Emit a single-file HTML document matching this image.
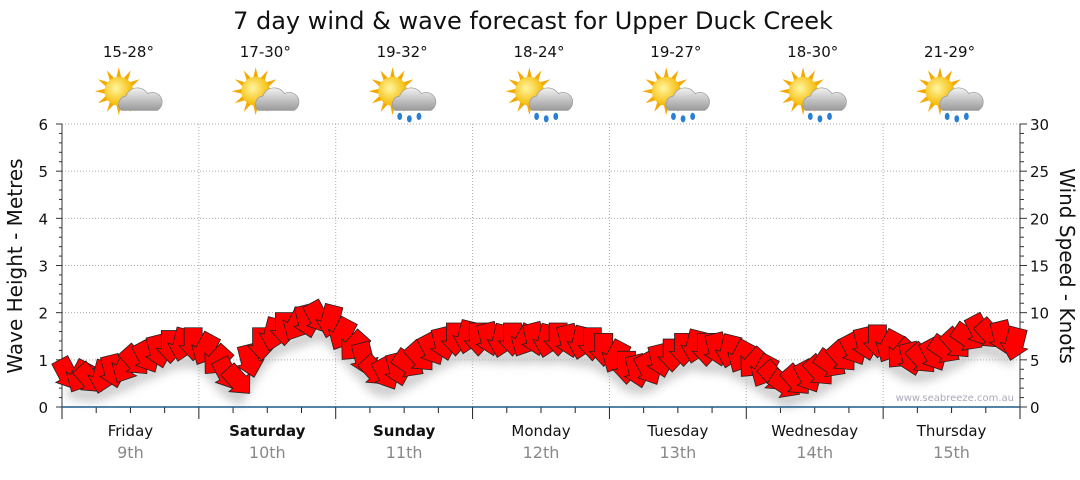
<!DOCTYPE html>
<html><head><meta charset="utf-8"><style>
body{margin:0;background:#fff;font-family:"Liberation Sans",sans-serif}
svg text{font-family:"DejaVu Sans","Liberation Sans",sans-serif}
</style></head><body>
<svg id="c" width="1080" height="475">
<defs>
<filter id="sh" x="-50%" y="-50%" width="200%" height="200%"><feGaussianBlur stdDeviation="5"/></filter>
<radialGradient id="sun" cx="0.4" cy="0.4" r="0.6"><stop offset="0" stop-color="#fff6a0"/><stop offset="1" stop-color="#f5b800"/></radialGradient>
<linearGradient id="cl" x1="0" y1="0" x2="0" y2="1"><stop offset="0" stop-color="#f2f2f2"/><stop offset="1" stop-color="#9a9a9a"/></linearGradient>
</defs>
<g id="g"></g>
</svg>
<script>
const days=["Friday","Saturday","Sunday","Monday","Tuesday","Wednesday","Thursday"];
const dates=["9th","10th","11th","12th","13th","14th","15th"];
const temps=["15-28°","17-30°","19-32°","18-24°","19-27°","18-30°","21-29°"];
const rain=[false,false,true,true,true,true,true];
const boldDays=[false,true,true,false,false,false,false];
const waveTicks=[0,1,2,3,4,5,6];
const windTicks=[0,5,10,15,20,25,30];
const windSpeed=[3.4,3.1,2.9,3.1,3.7,4.1,4.8,5.2,5.8,6.3,6.5,6.6,
6.0,4.8,3.4,2.7,4.8,6.6,7.6,8.2,8.6,9.0,9.4,9.0,
7.6,6.3,5.0,3.7,3.4,3.9,4.5,5.2,6.0,6.6,7.1,7.3,
7.1,7.1,6.9,7.1,6.9,7.1,6.9,7.1,6.9,6.7,6.6,6.0,
5.2,4.1,3.7,3.9,4.8,5.4,6.0,6.3,6.0,6.0,5.8,5.2,
4.5,3.7,3.1,2.3,2.7,3.1,3.7,4.5,5.2,6.0,6.6,6.9,
6.3,5.5,5.0,5.0,5.4,6.0,6.6,7.3,8.0,7.6,7.3,6.6];
const windDir=[160,200,150,190,170,200,150,160,170,180,190,180,
200,210,160,150,170,180,190,180,200,170,160,190,
200,210,170,150,160,170,140,150,160,170,180,190,
180,170,190,180,200,170,190,180,170,190,180,180,
200,180,170,160,170,180,180,190,180,170,190,200,
210,200,150,140,150,160,150,140,150,160,170,180,
200,210,170,150,160,140,150,140,160,150,170,190];
const NS="http://www.w3.org/2000/svg",G=document.getElementById('g');
const X0=62,X1=1020,Y0=407,Y1=124;
const dayW=(X1-X0)/7;
const yW=v=>Y0-(v/6)*(Y0-Y1), yK=v=>Y0-(v/30)*(Y0-Y1);
const xH=h=>X0+h/168*(X1-X0);
function mk(t,a,p){const e=document.createElementNS(NS,t);for(const k in a)e.setAttribute(k,a[k]);(p||G).appendChild(e);return e;}
let e=mk('text',{x:533,y:29,'text-anchor':'middle','font-size':24,fill:'#111'});e.textContent='7 day wind & wave forecast for Upper Duck Creek';


waveTicks.forEach(v=>{if(v>0){let l=mk('line',{x1:X0,x2:X1,y1:yW(v),y2:yW(v),stroke:'#aaa','stroke-dasharray':'1,2'});

}});
for(let d=1;d<7;d++){let l=mk('line',{x1:X0+d*dayW,x2:X0+d*dayW,y1:Y1,y2:Y0,stroke:'#aaa','stroke-dasharray':'1,2'});

}
mk('line',{x1:X0,x2:X0,y1:Y1,y2:Y0,stroke:'#333'});
mk('line',{x1:X1,x2:X1,y1:Y1,y2:Y0,stroke:'#333'});
for(let v=0;v<=6.001;v+=0.2){const y=yW(v),maj=Math.abs(v-Math.round(v))<0.01;mk('line',{x1:X0-(maj?6:3),x2:X0,y1:y,y2:y,stroke:'#333'});}
waveTicks.forEach(v=>{let t=mk('text',{x:48,y:yW(v)+6,'text-anchor':'end','font-size':15,fill:'#111'});t.textContent=v;

});
for(let v=0;v<=30;v++){const y=yK(v);mk('line',{x1:X1,x2:X1+(v%5==0?7:4),y1:y,y2:y,stroke:'#333'});}
windTicks.forEach(v=>{let t=mk('text',{x:1030,y:yK(v)+6,'font-size':15,fill:'#111'});t.textContent=v;

});
e=mk('text',{transform:'translate(22,266) rotate(-90)','text-anchor':'middle','font-size':20,fill:'#111'});e.textContent='Wave Height - Metres';


e=mk('text',{transform:'translate(1060,266) rotate(90)','text-anchor':'middle','font-size':20,fill:'#111'});e.textContent='Wind Speed - Knots';


for(let h=0;h<=168;h+=6){const x=xH(h),maj=h%24==0;mk('line',{x1:x,x2:x,y1:Y0,y2:Y0+(maj?12:6),stroke:'#222'});}
days.forEach((d,i)=>{const cx=X0+(i+0.5)*dayW;
let t=mk('text',{x:cx,y:436,'text-anchor':'middle','font-size':15,fill:'#111','font-weight':boldDays[i]?'bold':'normal'});t.textContent=d;


t=mk('text',{x:cx,y:458,'text-anchor':'middle','font-size':16,fill:'#888'});t.textContent=dates[i];


t=mk('text',{x:cx-2,y:57,'text-anchor':'middle','font-size':15,fill:'#111'});t.textContent=temps[i];


const ic=mk('g',{transform:`translate(${cx-2},96) scale(1.2)`});


for(let k=0;k<12;k++){const a=k*30*Math.PI/180;mk('polygon',{points:`${-8+Math.cos(a)*20},${-4+Math.sin(a)*20} ${-8+Math.cos(a+0.2)*11},${-4+Math.sin(a+0.2)*11} ${-8+Math.cos(a-0.2)*11},${-4+Math.sin(a-0.2)*11}`,fill:'#f5a800'},ic);}
mk('circle',{cx:-8,cy:-4,r:12,fill:'url(#sun)'},ic);
mk('path',{d:'M-6,12 a7,7 0 0 1 4,-12 a10,10 0 0 1 18,-2 a8,8 0 0 1 8,14 z',fill:'url(#cl)',stroke:'#999','stroke-width':0.6},ic);
if(rain[i]){[[-2,17],[6,19],[14,17]].forEach(p=>mk('ellipse',{cx:p[0],cy:p[1],rx:2,ry:3,fill:'#2a7fd4'},ic));}
});
let sp='M'+windSpeed.map((v,i)=>`${xH(i*2+1)},${yK(v)+16}`).join(' L');
mk('path',{d:sp,stroke:'#bbb','stroke-width':12,fill:'none',filter:'url(#sh)',opacity:0.8});
windSpeed.forEach((v,i)=>{const x=xH(i*2+1),y=yK(v);
const a=mk('polygon',{points:'-9,-17 9,-17 9,1 14,1 0,16 -14,1 -9,1',fill:'#f00',stroke:'#222','stroke-width':0.8,transform:`translate(${x},${y}) rotate(${(windDir[i]-180)*1.4})`});

});
mk('line',{x1:X0,x2:X1,y1:Y0,y2:Y0,stroke:'#1d5a8a','stroke-width':1.5});
e=mk('text',{x:1014,y:401,'text-anchor':'end','font-size':10,fill:'#aab'});e.textContent='www.seabreeze.com.au';


</script>
</body></html>
